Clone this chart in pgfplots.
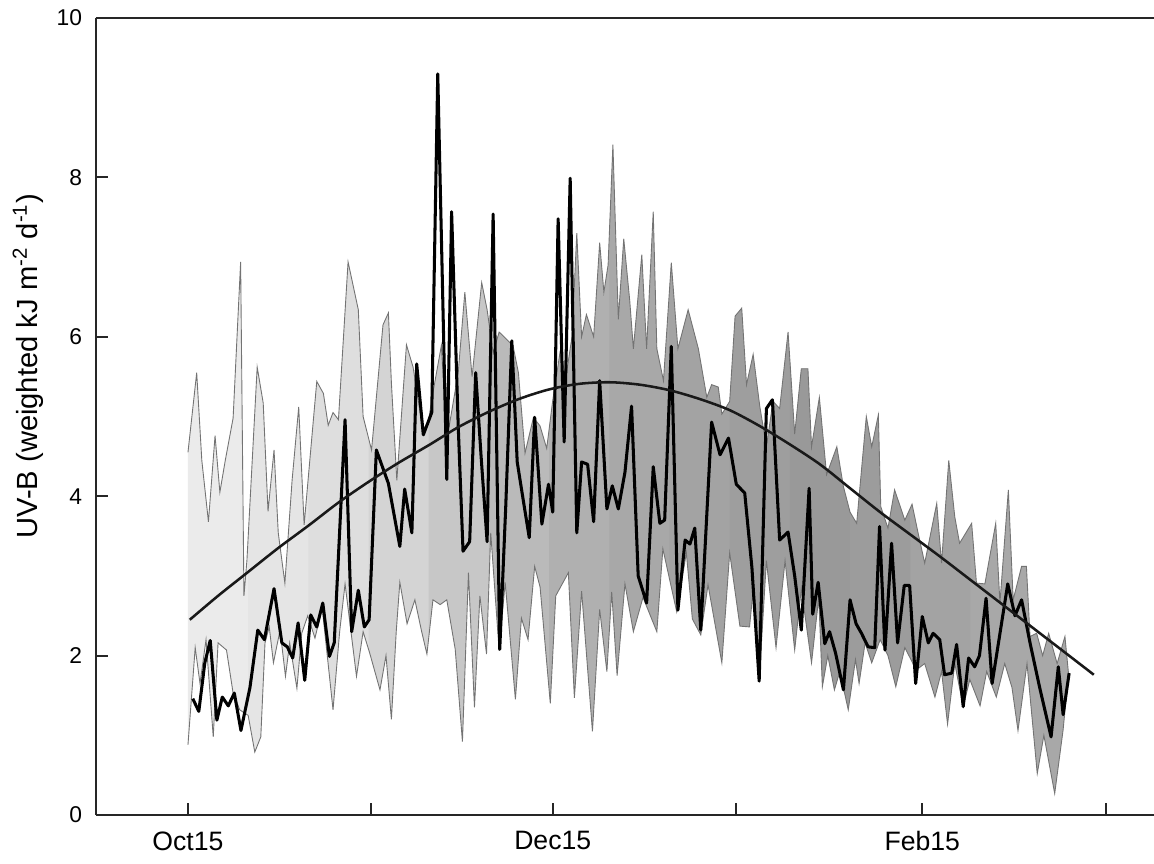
\documentclass[border=0pt]{standalone}
\usepackage{fontspec}
\setmainfont{Liberation Sans}
\usepackage{pgfplots}
\usepackage{pgfplotstable}
\pgfplotsset{compat=1.18}
\usepgfplotslibrary{fillbetween}

\pgfplotstableread{
d y
0 4.55
1.45 5.55
2.3 4.45
3.4 3.68
4.5 4.76
5.3 4.05
6.2 4.45
7.5 4.98
8.75 6.94
9.3 2.75
9.8 3.2
11.5 5.62
12.5 5.17
13.3 3.81
14.3 4.58
15.0 3.54
16.1 2.91
17.3 4.2
18.4 5.12
19.3 3.64
20.3 4.5
21.4 5.44
22.5 5.29
23.3 4.89
24.1 5.05
25.0 4.96
26.6 6.94
28.3 6.34
29.1 5.0
30.5 4.58
32.4 6.15
33.3 6.30
33.8 5.42
34.7 4.20
36.3 5.90
37.4 5.62
39.1 4.79
39.9 4.92
40.7 5.3
42.1 5.89
43.0 4.7
44.9 5.55
46.0 6.56
47.2 5.5
48.8 6.68
49.7 6.34
50.7 5.8
51.7 6.06
52.9 5.97
54.0 5.89
54.9 5.55
56.0 4.54
57.4 4.99
58.5 4.88
59.6 4.60
60.6 5.2
61.8 5.8
62.8 5.5
63.8 6.0
64.6 7.3
65.4 6.0
66.2 6.28
67.4 6.0
68.4 7.18
69.1 6.56
69.8 6.9
70.6 8.41
71.5 6.22
72.4 7.23
73.4 6.45
74.0 5.85
75.4 7.03
76.2 5.85
77.3 7.57
77.9 5.85
79.0 5.45
80.3 6.93
81.4 5.85
83.1 6.34
84.8 5.85
86.2 5.24
87.0 5.4
88.1 5.37
88.7 5.03
90.0 5.19
90.9 6.26
92.0 6.36
92.8 5.40
93.9 5.78
95.0 5.13
96.1 4.62
97.2 5.19
98.3 5.1
99.7 6.06
100.8 4.78
101.9 5.60
103.0 5.60
103.6 4.62
104.9 5.24
106.1 4.27
107.8 4.62
108.9 4.12
110.0 3.8
111.1 3.66
112.7 5.0
113.6 4.62
114.7 5.02
115.1 3.87
116.3 3.6
117.4 4.08
119.1 3.7
120.3 3.9
121.3 3.54
122.4 3.16
124.4 3.91
125.2 3.16
126.4 4.45
127.4 3.74
128.2 3.41
130.2 3.66
131.0 2.91
132.4 2.9
134.2 3.66
134.9 2.66
136.3 4.08
137.1 2.70
138.5 3.12
139.3 3.12
139.9 2.24
141.0 2.28
142.0 2.0
143.0 2.28
144.4 1.9
145.7 2.24
146.3 1.77
}\bandup

\pgfplotstableread{
d y
0 0.88
1.2 2.10
2.0 1.65
3.0 2.2
4.2 0.98
5.0 2.16
6.4 2.07
7.5 1.53
8.6 1.32
10.0 1.25
11.1 0.79
12.1 0.98
12.8 2.16
13.5 2.36
14.2 1.91
15.3 2.32
16.2 1.74
16.9 2.16
18.1 1.59
18.9 2.28
19.9 2.5
21.1 2.22
22.3 2.6
24.1 1.32
25.2 2.3
26.1 2.9
28.0 1.74
29.1 2.3
30.2 2.03
31.9 1.57
32.9 2.0
33.8 1.2
34.6 2.3
35.2 2.92
36.4 2.4
37.7 2.70
38.8 2.31
39.7 2.02
40.7 2.70
41.9 2.64
43.0 2.70
44.4 2.08
45.6 0.92
46.6 3.04
47.6 1.35
48.5 2.75
49.6 2.02
50.3 3.54
51.7 2.06
52.7 2.92
54.4 1.45
55.4 2.47
56.5 2.20
57.6 3.12
58.5 2.86
60.2 1.40
61.1 2.75
63.2 3.04
64.2 1.47
65.4 2.81
67.2 1.05
68.4 2.58
69.6 1.80
70.4 2.8
71.3 1.75
72.6 2.9
74.0 2.30
75.6 2.73
77.9 2.30
78.9 3.34
81.2 2.55
82.8 3.29
83.8 2.46
85.2 2.26
86.4 2.89
88.7 1.91
90.0 3.29
91.7 2.37
93.3 2.36
94.0 2.9
94.9 1.69
96.1 3.19
97.7 2.10
99.2 3.19
100.8 2.07
101.9 2.84
103.6 1.91
104.8 2.73
105.4 1.61
106.3 2.0
107.4 1.57
108.3 1.8
109.7 1.32
110.9 1.95
111.5 1.65
112.5 2.16
113.6 1.91
115.0 2.2
116.3 2.0
117.6 1.61
119.1 2.1
121.0 1.82
122.4 1.9
124.1 1.48
125.2 1.8
126.2 1.14
127.4 1.9
128.8 1.36
129.9 1.7
131.6 1.37
132.7 1.8
134.3 1.48
135.7 1.9
136.9 1.6
137.9 1.06
139.4 1.9
141.1 0.52
142.2 1.0
144.0 0.27
145.4 1.07
146.3 1.78
}\bandlo

\pgfplotstableread{
d y
0.8 1.46
1.8 1.30
2.8 1.91
3.7 2.19
4.8 1.19
5.7 1.48
6.7 1.37
7.7 1.53
8.8 1.06
10.3 1.6
11.6 2.32
12.7 2.20
14.3 2.84
15.6 2.16
16.5 2.11
17.4 1.97
18.3 2.41
19.4 1.69
20.4 2.51
21.4 2.36
22.4 2.66
23.5 1.99
24.3 2.16
26.1 4.96
27.2 2.30
28.3 2.82
29.3 2.36
30.1 2.45
31.3 4.58
33.3 4.16
35.2 3.37
36.0 4.09
37.2 3.54
38.0 5.66
39.1 4.77
40.5 5.05
41.5 9.30
43.0 4.21
43.8 7.57
44.9 4.88
45.7 3.31
46.8 3.43
47.8 5.55
48.7 4.5
49.7 3.43
50.7 7.54
51.8 2.08
52.8 3.88
53.8 5.95
54.7 4.43
55.6 4.0
56.7 3.48
57.6 4.99
58.8 3.65
59.9 4.15
60.6 3.8
61.5 7.48
62.5 4.68
63.5 7.99
64.6 3.54
65.4 4.43
66.4 4.4
67.4 3.68
68.4 5.45
69.6 3.84
70.5 4.13
71.5 3.84
72.6 4.3
73.7 5.13
74.8 3.0
76.2 2.66
77.3 4.37
78.4 3.66
79.2 3.7
80.3 5.88
81.4 2.57
82.6 3.45
83.4 3.4
84.2 3.6
85.2 2.32
87.0 4.93
88.4 4.52
89.8 4.73
91.1 4.15
92.5 4.04
93.7 3.1
94.9 1.68
96.1 5.10
97.1 5.21
98.3 3.45
99.7 3.55
100.8 3.0
101.9 2.32
103.2 4.10
103.8 2.52
104.7 2.92
105.8 2.15
106.6 2.3
107.6 2.03
108.9 1.57
110.0 2.70
111.0 2.4
111.9 2.28
113.0 2.11
114.1 2.1
114.9 3.62
115.8 2.07
116.9 3.41
117.9 2.16
119.0 2.88
119.9 2.88
120.9 1.65
122.0 2.49
123.0 2.16
123.8 2.28
124.9 2.2
125.7 1.76
126.9 1.78
127.7 2.14
128.8 1.36
129.7 1.97
130.7 1.86
131.5 2.0
132.6 2.72
133.6 1.65
135.2 2.42
136.2 2.9
137.4 2.5
138.5 2.7
139.9 2.16
141.5 1.6
143.4 0.98
144.6 1.86
145.4 1.26
146.4 1.78
}\seasondata

\pgfplotstableread{
d y
0.3 2.45
5 2.75
10 3.05
15 3.35
20 3.63
25 3.92
30 4.18
35 4.42
40 4.64
45 4.87
50 5.06
55 5.22
60 5.34
65 5.41
70 5.43
75 5.40
80 5.33
85 5.22
90 5.08
95 4.88
100 4.65
105 4.40
110 4.10
115 3.80
120 3.52
125 3.24
130 2.95
135 2.66
140 2.37
145 2.08
150.5 1.76
}\clearskydata

\begin{document}
\begin{tikzpicture}
\begin{axis}[
  at={(0,0)}, anchor=south west,
  scale only axis, width=14.669cm, height=11.05cm,
  xmin=-15.28, xmax=160.5, ymin=0, ymax=10,
  axis x line=box, axis y line=left,
  axis line style={-, line width=0.8pt, black!85},
  tick pos=left, tick align=inside, major tick length=0.16cm,
  every tick/.style={black!85, line width=0.8pt},
  xtick={0,30.4,60.6,91,122,152.5},
  xticklabels={Oct15,,Dec15,,Feb15,},
  ytick={0,2,4,6,8,10},
  /pgf/number format/assume math mode=true,
  x tick label style={font=\fontsize{10.5}{12}\selectfont, yshift=-3pt},
  y tick label style={font=\fontsize{9}{11}\selectfont, xshift=-2pt},
  ylabel={UV-B (weighted kJ m\textsuperscript{-2} d\textsuperscript{-1})},
  ylabel style={at={(axis description cs:-0.064,0.563)}, anchor=center, font=\fontsize{11.5}{13}\selectfont},
]
\addplot[draw=none, name path=up, forget plot] table[x=d, y=y] {\bandup};
\addplot[draw=none, name path=lo, forget plot] table[x=d, y=y] {\bandlo};
\addplot[fill=black!8, draw=none, forget plot] fill between[of=up and lo, soft clip={domain=-1:10.2}];
\addplot[fill=black!10, draw=none, forget plot] fill between[of=up and lo, soft clip={domain=10:20.2}];
\addplot[fill=black!13, draw=none, forget plot] fill between[of=up and lo, soft clip={domain=20:30.2}];
\addplot[fill=black!17, draw=none, forget plot] fill between[of=up and lo, soft clip={domain=30:40.2}];
\addplot[fill=black!22, draw=none, forget plot] fill between[of=up and lo, soft clip={domain=40:50.2}];
\addplot[fill=black!27, draw=none, forget plot] fill between[of=up and lo, soft clip={domain=50:60.2}];
\addplot[fill=black!31, draw=none, forget plot] fill between[of=up and lo, soft clip={domain=60:70.2}];
\addplot[fill=black!34, draw=none, forget plot] fill between[of=up and lo, soft clip={domain=70:80.2}];
\addplot[fill=black!36, draw=none, forget plot] fill between[of=up and lo, soft clip={domain=80:90.2}];
\addplot[fill=black!38, draw=none, forget plot] fill between[of=up and lo, soft clip={domain=90:100.2}];
\addplot[fill=black!40, draw=none, forget plot] fill between[of=up and lo, soft clip={domain=100:110.2}];
\addplot[fill=black!39, draw=none, forget plot] fill between[of=up and lo, soft clip={domain=110:120.2}];
\addplot[fill=black!36, draw=none, forget plot] fill between[of=up and lo, soft clip={domain=120:130.2}];
\addplot[fill=black!34, draw=none, forget plot] fill between[of=up and lo, soft clip={domain=130:140.2}];
\addplot[fill=black!34, draw=none, forget plot] fill between[of=up and lo, soft clip={domain=140:148}];
\addplot[black!55, line width=0.35pt] table[x=d, y=y] {\bandup};
\addplot[black!55, line width=0.35pt] table[x=d, y=y] {\bandlo};
\addplot[black, line width=1.2pt, line join=round] table[x=d, y=y] {\seasondata};
\addplot[black!90, line width=1.0pt, smooth] table[x=d, y=y] {\clearskydata};
\end{axis}
\pgfresetboundingbox
\useasboundingbox (-1.331,-0.679) rectangle (14.669,11.300);
\end{tikzpicture}
\end{document}
